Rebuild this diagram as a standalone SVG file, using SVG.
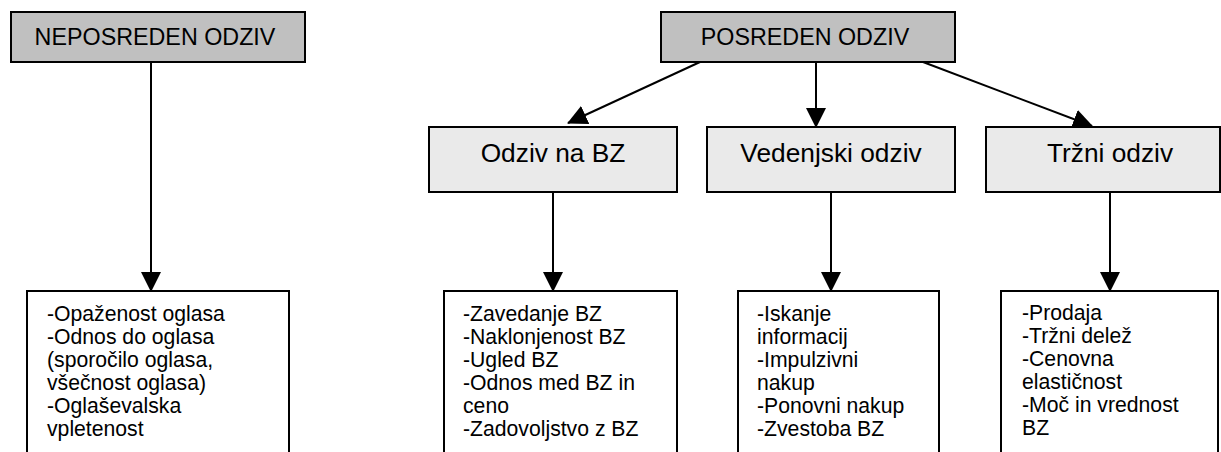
<svg xmlns="http://www.w3.org/2000/svg" width="1221" height="452" viewBox="0 0 1221 452">
<style>
.box{stroke:#000;stroke-width:2}
.hdr{fill:#c0c0c0}
.mid{fill:#eaeaea}
.lst{fill:#fff}
.t{font-family:"Liberation Sans",Arial,sans-serif;fill:#000}
.th{font-size:23.3px}
.tm{font-size:26.3px}
.tl{font-size:21.2px}
.con{stroke:#000;stroke-width:2;fill:none;marker-end:url(#ah)}
</style>
<defs>
<marker id="ah" viewBox="0 0 20 20" refX="19" refY="10" markerWidth="20" markerHeight="20" orient="auto" markerUnits="userSpaceOnUse">
<path d="M0,0 L20,10 L0,20 z" fill="#000"/>
</marker>
</defs>
<rect width="1221" height="452" fill="#fff"/>
<g id="connectors">
<line class="con" x1="151" y1="62" x2="151" y2="291"/>
<line class="con" x1="700" y1="62" x2="568" y2="123"/>
<line class="con" x1="816" y1="62" x2="816" y2="127"/>
<line class="con" x1="923" y1="62" x2="1092" y2="126"/>
<line class="con" x1="553" y1="192" x2="553" y2="291"/>
<line class="con" x1="831" y1="192" x2="831" y2="291"/>
<line class="con" x1="1110" y1="192" x2="1110" y2="291"/>
</g>
<g id="neposreden">
<rect class="box hdr" x="11" y="12" width="294" height="50"/>
<text class="t th" x="155" y="45" text-anchor="middle">NEPOSREDEN ODZIV</text>
</g>
<g id="posreden">
<rect class="box hdr" x="661" y="12" width="294" height="50"/>
<text class="t th" x="805" y="45" text-anchor="middle">POSREDEN ODZIV</text>
</g>
<g id="odziv-bz">
<rect class="box mid" x="429" y="127" width="248" height="65"/>
<text class="t tm" x="553" y="162" text-anchor="middle">Odziv na BZ</text>
</g>
<g id="vedenjski">
<rect class="box mid" x="707" y="127" width="248" height="65"/>
<text class="t tm" x="831" y="162" text-anchor="middle">Vedenjski odziv</text>
</g>
<g id="trzni">
<rect class="box mid" x="986" y="127" width="234" height="65"/>
<text class="t tm" x="1110" y="162" text-anchor="middle">Tržni odziv</text>
</g>
<g id="list-neposreden">
<rect class="box lst" x="27" y="291" width="262" height="175"/>
<text class="t tl">
<tspan x="47" y="321">-Opaženost oglasa</tspan>
<tspan x="47" y="344">-Odnos do oglasa</tspan>
<tspan x="47" y="367">(sporočilo oglasa,</tspan>
<tspan x="47" y="390">všečnost oglasa)</tspan>
<tspan x="47" y="413">-Oglaševalska</tspan>
<tspan x="47" y="436">vpletenost</tspan>
</text>
</g>
<g id="list-odziv-bz">
<rect class="box lst" x="444" y="291" width="233" height="175"/>
<text class="t tl">
<tspan x="463" y="321">-Zavedanje BZ</tspan>
<tspan x="463" y="344">-Naklonjenost BZ</tspan>
<tspan x="463" y="367">-Ugled BZ</tspan>
<tspan x="463" y="390">-Odnos med BZ in</tspan>
<tspan x="463" y="413">ceno</tspan>
<tspan x="463" y="436">-Zadovoljstvo z BZ</tspan>
</text>
</g>
<g id="list-vedenjski">
<rect class="box lst" x="738" y="291" width="201" height="175"/>
<text class="t tl">
<tspan x="757" y="321">-Iskanje</tspan>
<tspan x="757" y="344">informacij</tspan>
<tspan x="757" y="367">-Impulzivni</tspan>
<tspan x="757" y="390">nakup</tspan>
<tspan x="757" y="413">-Ponovni nakup</tspan>
<tspan x="757" y="436">-Zvestoba BZ</tspan>
</text>
</g>
<g id="list-trzni">
<rect class="box lst" x="1001" y="291" width="217" height="175"/>
<text class="t tl">
<tspan x="1022" y="320">-Prodaja</tspan>
<tspan x="1022" y="343">-Tržni delež</tspan>
<tspan x="1022" y="366">-Cenovna</tspan>
<tspan x="1022" y="389">elastičnost</tspan>
<tspan x="1022" y="412">-Moč in vrednost</tspan>
<tspan x="1022" y="435">BZ</tspan>
</text>
</g>
</svg>
